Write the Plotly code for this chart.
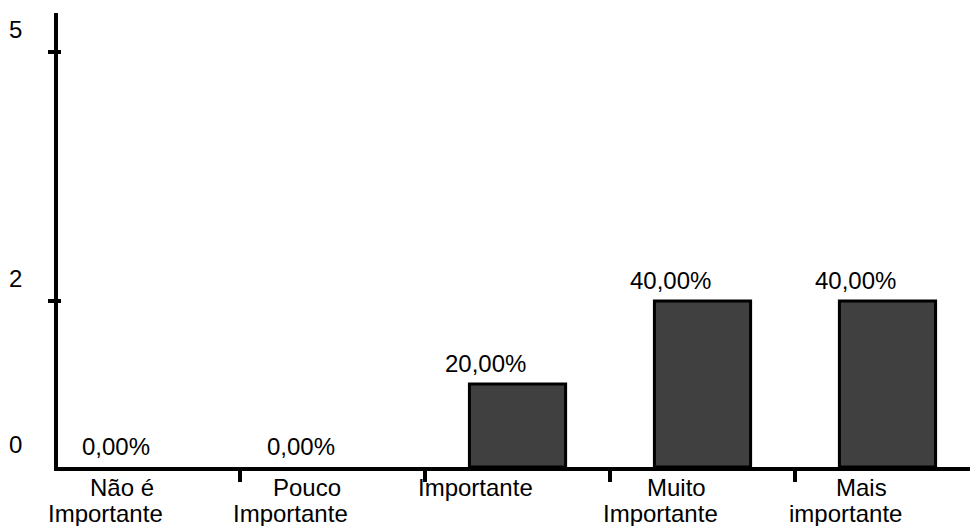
import plotly.graph_objects as go

# Survey answers: importance rating counts
categories = ["Não é\nImportante", "Pouco\nImportante", "Importante",
              "Muito\nImportante", "Mais\nimportante"]
counts = [0, 0, 1, 2, 2]
y_tick_values = [0, 2, 5]
y_tick_labels = ["0", "2", "5"]

total = sum(counts)
percent_labels = [f"{c / total * 100:.2f}%".replace(".", ",") for c in counts]

FONT = "Liberation Sans, Arial, sans-serif"
FS = 24
BLACK = "#000000"

fig = go.Figure()
fig.add_trace(go.Bar(
    x=categories,
    y=counts,
    width=0.52,
    marker=dict(
        color="#404040",
        # empty bars get no outline
        line=dict(color=BLACK, width=[3 if c > 0 else 0 for c in counts]),
    ),
    hoverinfo="skip",
))

annotations = []
# value labels above each bar, shifted left of the bar centre
for cat, val, lab in zip(categories, counts, percent_labels):
    annotations.append(dict(
        x=cat, y=val, xref="x", yref="y", text=lab, showarrow=False,
        xanchor="center", yanchor="middle", xshift=-32, yshift=21,
        font=dict(family=FONT, size=FS, color=BLACK),
    ))

# category names below the axis, one annotation per text line
for cat in categories:
    for i, line in enumerate(cat.split("\n")):
        annotations.append(dict(
            x=cat, y=0, xref="x", yref="paper", text=line, showarrow=False,
            xanchor="center", yanchor="middle",
            xshift=-26 if len(line) < 8 else -42,
            yshift=-20 - 26 * i,
            font=dict(family=FONT, size=FS, color=BLACK),
        ))

# y-axis value labels, placed above their tick marks
for v, lab in zip(y_tick_values, y_tick_labels):
    annotations.append(dict(
        x=0, y=v, xref="paper", yref="y", text=lab, showarrow=False,
        xanchor="center", yanchor="middle", xshift=-43, yshift=23,
        font=dict(family=FONT, size=FS, color=BLACK),
    ))

# y tick marks that cross the axis line on both sides
shapes = [
    dict(type="line", xref="paper", yref="y", xsizemode="pixel", xanchor=0,
         x0=-10, x1=3, y0=v, y1=v, line=dict(color=BLACK, width=4))
    for v in y_tick_values if v > 0
]

fig.update_layout(
    width=970, height=526,
    margin=dict(l=58, r=0, t=13, b=59),
    paper_bgcolor="white", plot_bgcolor="white",
    showlegend=False,
    annotations=annotations,
    shapes=shapes,
    xaxis=dict(
        type="category", range=[-0.484, 4.446],
        showline=True, linecolor=BLACK, linewidth=4,
        ticks="outside", tickson="boundaries", ticklen=11, tickwidth=4,
        tickcolor=BLACK, showticklabels=False, showgrid=False, zeroline=False,
    ),
    yaxis=dict(
        range=[0, 5.47],
        showline=True, linecolor=BLACK, linewidth=4,
        showticklabels=False, ticks="", showgrid=False, zeroline=False,
    ),
)

fig.write_html("out.html")
